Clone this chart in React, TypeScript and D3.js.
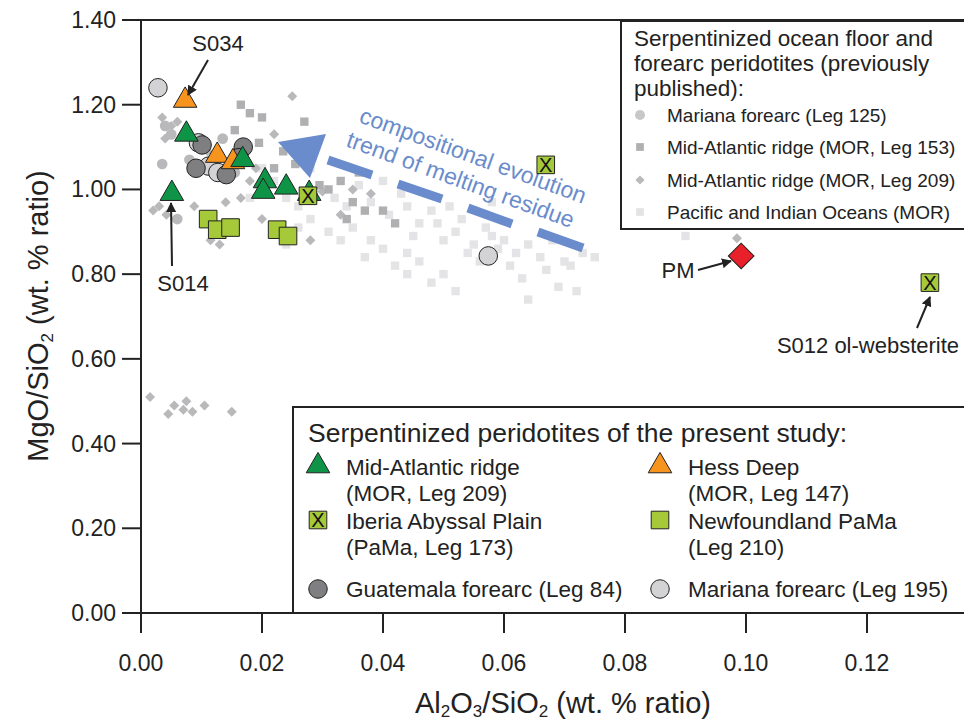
import * as d3 from 'd3'

const W = 964
const H = 724

// previously published (background)
const mariana125 = [[0.004, 1.15], [0.005, 1.13], [0.0035, 1.06], [0.008, 1.07], [0.006, 0.93], [0.0155, 1.04], [0.017, 1.09], [0.0135, 1.12]]
const mar153 = [[0.0155, 1.14], [0.018, 1.18], [0.0165, 1.2], [0.02, 1.17], [0.027, 1.16], [0.022, 1.05], [0.0295, 1.01], [0.031, 1.0], [0.033, 1.02], [0.035, 0.97], [0.036, 1.04], [0.034, 0.93], [0.037, 0.95], [0.04, 0.95], [0.042, 0.92], [0.0255, 1.06], [0.0235, 1.09], [0.0195, 1.11]]
const mar209 = [[0.0015, 0.51], [0.0045, 0.47], [0.0055, 0.49], [0.007, 0.48], [0.0085, 0.475], [0.0075, 0.5], [0.0105, 0.49], [0.015, 0.475], [0.0035, 1.17], [0.005, 1.15], [0.006, 1.16], [0.004, 1.12], [0.002, 0.95], [0.003, 0.96], [0.0042, 0.94], [0.0088, 0.96], [0.0085, 1.06], [0.011, 1.09], [0.014, 0.97], [0.015, 0.92], [0.0165, 0.98], [0.018, 1.02], [0.025, 1.22], [0.022, 1.13], [0.019, 1.05], [0.02, 0.93], [0.0115, 0.88], [0.013, 0.87], [0.03, 0.995], [0.035, 1.0], [0.038, 0.99], [0.033, 0.94], [0.028, 0.88], [0.0985, 0.885]]
const pacific = [[0.03, 1.0], [0.032, 0.98], [0.034, 0.96], [0.036, 1.01], [0.038, 0.97], [0.04, 1.02], [0.041, 0.94], [0.043, 0.99], [0.044, 0.96], [0.046, 0.92], [0.045, 0.89], [0.048, 0.95], [0.049, 0.92], [0.05, 0.88], [0.051, 0.96], [0.052, 0.9], [0.053, 0.93], [0.055, 0.87], [0.054, 0.85], [0.056, 0.83], [0.057, 0.91], [0.058, 0.89], [0.059, 0.86], [0.06, 0.88], [0.061, 0.82], [0.062, 0.85], [0.063, 0.79], [0.064, 0.87], [0.066, 0.84], [0.067, 0.81], [0.069, 0.77], [0.07, 0.83], [0.071, 0.82], [0.072, 0.76], [0.073, 0.85], [0.075, 0.84], [0.064, 0.74], [0.037, 0.84], [0.038, 0.88], [0.04, 0.86], [0.042, 0.82], [0.044, 0.8], [0.046, 0.83], [0.048, 0.78], [0.05, 0.8], [0.052, 0.76], [0.035, 0.91], [0.033, 0.88], [0.031, 0.9], [0.028, 0.93], [0.026, 0.96], [0.024, 0.98], [0.022, 1.02], [0.02, 1.05], [0.018, 0.98], [0.028, 1.05], [0.026, 0.91], [0.024, 0.87], [0.09, 0.89], [0.0125, 0.9], [0.044, 0.85], [0.058, 0.97], [0.068, 0.88]]

// present study
const midAtlantic = [[0.0075, 1.13], [0.0051, 0.99], [0.0168, 1.07], [0.0205, 1.02], [0.0202, 0.995], [0.024, 1.005], [0.0278, 0.99]]
const hessDeep = [[0.0073, 1.21], [0.0126, 1.08], [0.0152, 1.065]]
const iberia = [[0.0276, 0.985], [0.0669, 1.058], [0.1304, 0.78]]
const newfoundland = [[0.0111, 0.93], [0.0126, 0.905], [0.0148, 0.91], [0.0225, 0.905], [0.0243, 0.89]]
const guatemala = [[0.0101, 1.105], [0.0091, 1.05], [0.0141, 1.035], [0.0169, 1.1], [0.0162, 1.075]]
const mariana195 = [[0.0028, 1.24], [0.0095, 1.11], [0.0112, 1.055], [0.0127, 1.04], [0.0574, 0.843]]
const pm = [[0.0992, 0.843]]

const xTicks = [0, 0.02, 0.04, 0.06, 0.08, 0.1, 0.12]
const yTicks = [0, 0.2, 0.4, 0.6, 0.8, 1.0, 1.2, 1.4]

const FONT = 'Liberation Sans, Arial, sans-serif'
const x = d3.scaleLinear().domain([0, 0.12]).range([141, 867])
const y = d3.scaleLinear().domain([0, 1.4]).range([613, 20])

const sym = (type: d3.SymbolType, size: number) => d3.symbol().type(type).size(size)()!

function Marks({ data, type, size, fill, stroke = 'none', cross = false, rot = 0 }: any) {
  const p = sym(type, size)
  return (
    <g>
      {data.map((d: number[], i: number) => (
        <g key={i} transform={`translate(${x(d[0])},${y(d[1])}) rotate(${rot})`}>
          <path d={p} fill={fill} stroke={stroke} strokeWidth={1} />
          {cross && <text textAnchor="middle" y={7} fontSize={20} fontFamily={FONT} fill="#111">X</text>}
        </g>
      ))}
    </g>
  )
}

function Key({ cx, cy, type, size, fill, stroke = 'none', cross = false, rot = 0 }: any) {
  return (
    <g transform={`translate(${cx},${cy}) rotate(${rot})`}>
      <path d={sym(type, size)} fill={fill} stroke={stroke} strokeWidth={1} />
      {cross && <text textAnchor="middle" y={7} fontSize={20} fontFamily={FONT} fill="#111">X</text>}
    </g>
  )
}

const GREEN = '#0f9447'
const ORANGE = '#f7941d'
const LIME = '#a6c93a'
const BLUE = '#6a8ccc'

export default function App() {
  const arrow = (x1: number, y1: number, x2: number, y2: number) => (
    <line x1={x1} y1={y1} x2={x2} y2={y2} stroke="#222" strokeWidth={2} markerEnd="url(#ah)" />
  )
  const dashes = [[328, 160, 372, 175], [398, 184, 442, 199], [468, 208, 512, 224], [538, 232, 583, 248]]
  return (
    <svg width={W} height={H} style={{ position: 'absolute', left: 0, top: 0 }} fontFamily={FONT}>
      <defs>
        <marker id="ah" viewBox="0 0 10 10" refX={9} refY={5} markerWidth={5} markerHeight={5} orient="auto">
          <path d="M0,0L10,5L0,10z" fill="#222" />
        </marker>
      </defs>
      <rect width={W} height={H} fill="#fff" />
      {/* background data */}
      <Marks data={pacific} type={d3.symbolSquare} size={70} fill="#e4e4e6" />
      <Marks data={mar209} type={d3.symbolSquare} size={50} fill="#b9b9bb" rot={45} />
      <Marks data={mar153} type={d3.symbolSquare} size={70} fill="#b0b0b2" />
      <Marks data={mariana125} type={d3.symbolCircle} size={90} fill="#b9b9bb" />
      {/* trend */}
      <path d="M278,142L326,134L310,178Z" fill={BLUE} />
      {dashes.map((d, i) => (
        <line key={i} x1={d[0]} y1={d[1]} x2={d[2]} y2={d[3]} stroke={BLUE} strokeWidth={9} />
      ))}
      <g transform="translate(358,122) rotate(20)" fill={BLUE} fontSize={23}>
        <text>compositional evolution</text>
        <text x={-4} y={27}>trend of melting residue</text>
      </g>
      {/* present study */}
      <Marks data={mariana195} type={d3.symbolCircle} size={270} fill="#d3d3d5" stroke="#222" />
      <Marks data={guatemala} type={d3.symbolCircle} size={270} fill="#7f7f81" stroke="#222" />
      <Marks data={newfoundland} type={d3.symbolSquare} size={310} fill={LIME} stroke="#222" />
      <Marks data={hessDeep} type={d3.symbolTriangle} size={240} fill={ORANGE} stroke="#222" />
      <Marks data={midAtlantic} type={d3.symbolTriangle} size={240} fill={GREEN} stroke="#222" />
      <Marks data={iberia} type={d3.symbolSquare} size={310} fill={LIME} stroke="#222" cross />
      <Marks data={pm} type={d3.symbolSquare} size={330} fill="#e8202a" stroke="#222" rot={45} />
      {/* annotations */}
      <text x={218} y={51} fontSize={22} textAnchor="middle" fill="#222">S034</text>
      {arrow(208, 60, 188, 95)}
      <text x={183} y={291} fontSize={22} textAnchor="middle" fill="#222">S014</text>
      {arrow(172, 266, 171, 203)}
      <text x={678} y={278} fontSize={22} textAnchor="middle" fill="#222">PM</text>
      {arrow(698, 270, 731, 261)}
      <text x={868} y={353} fontSize={22} textAnchor="middle" fill="#222">S012 ol-websterite</text>
      {arrow(917, 328, 930, 297)}
      {/* frame & axes */}
      <path d="M141,20V613H964M141,20H964" fill="none" stroke="#222" strokeWidth={2} />
      {xTicks.map(t => (
        <g key={t}>
          <line x1={x(t)} x2={x(t)} y1={613} y2={633} stroke="#222" strokeWidth={2} />
          <text x={x(t)} y={671} fontSize={23} textAnchor="middle" fill="#222">{t.toFixed(2)}</text>
        </g>
      ))}
      {yTicks.map(t => (
        <g key={t}>
          <line x1={122} x2={141} y1={y(t)} y2={y(t)} stroke="#222" strokeWidth={2} />
          <text x={116} y={y(t) + 8} fontSize={23} textAnchor="end" fill="#222">{t.toFixed(2)}</text>
        </g>
      ))}
      <text x={563} y={713} fontSize={29} textAnchor="middle" fill="#222">
        Al<tspan fontSize={17} dy={4}>2</tspan><tspan dy={-4}>O</tspan><tspan fontSize={17} dy={4}>3</tspan><tspan dy={-4}>/SiO</tspan><tspan fontSize={17} dy={4}>2</tspan><tspan dy={-4}> (wt. % ratio)</tspan>
      </text>
      <text transform="translate(48,316) rotate(-90)" fontSize={29} textAnchor="middle" fill="#222">
        MgO/SiO<tspan fontSize={17} dy={5}>2</tspan><tspan dy={-5}> (wt. % ratio)</tspan>
      </text>
      {/* legend 1 */}
      <rect x={621} y={21} width={350} height={208} fill="#fff" stroke="#222" strokeWidth={2} />
      <g fontSize={22.5} fill="#222">
        <text x={634} y={46}>Serpentinized ocean floor and</text>
        <text x={634} y={71}>forearc peridotites (previously</text>
        <text x={634} y={96}>published):</text>
      </g>
      <g fontSize={19} fill="#222">
        <Key cx={640} cy={115} type={d3.symbolCircle} size={80} fill="#c8c8ca" />
        <text x={667} y={122}>Mariana forearc (Leg 125)</text>
        <Key cx={640} cy={147} type={d3.symbolSquare} size={60} fill="#b0b0b2" />
        <text x={667} y={154}>Mid-Atlantic ridge (MOR, Leg 153)</text>
        <Key cx={640} cy={180} type={d3.symbolSquare} size={42} fill="#b9b9bb" rot={45} />
        <text x={667} y={187}>Mid-Atlantic ridge (MOR, Leg 209)</text>
        <Key cx={640} cy={212} type={d3.symbolSquare} size={60} fill="#e4e4e6" />
        <text x={667} y={219}>Pacific and Indian Oceans (MOR)</text>
      </g>
      {/* legend 2 */}
      <rect x={293} y={407} width={678} height={206} fill="#fff" stroke="#222" strokeWidth={2} />
      <text x={308} y={442} fontSize={26.5} fill="#222">Serpentinized peridotites of the present study:</text>
      <g fontSize={22.5} fill="#222">
        <Key cx={318} cy={466} type={d3.symbolTriangle} size={240} fill={GREEN} stroke="#222" />
        <text x={346} y={475}>Mid-Atlantic ridge</text>
        <text x={346} y={501}>(MOR, Leg 209)</text>
        <Key cx={660} cy={466} type={d3.symbolTriangle} size={240} fill={ORANGE} stroke="#222" />
        <text x={688} y={475}>Hess Deep</text>
        <text x={688} y={501}>(MOR, Leg 147)</text>
        <Key cx={318} cy={520} type={d3.symbolSquare} size={310} fill={LIME} stroke="#222" cross />
        <text x={346} y={529}>Iberia Abyssal Plain</text>
        <text x={346} y={555}>(PaMa, Leg 173)</text>
        <Key cx={660} cy={520} type={d3.symbolSquare} size={310} fill={LIME} stroke="#222" />
        <text x={688} y={529}>Newfoundland PaMa</text>
        <text x={688} y={555}>(Leg 210)</text>
        <Key cx={318} cy={589} type={d3.symbolCircle} size={270} fill="#7f7f81" stroke="#222" />
        <text x={346} y={597}>Guatemala forearc (Leg 84)</text>
        <Key cx={660} cy={589} type={d3.symbolCircle} size={270} fill="#d3d3d5" stroke="#222" />
        <text x={688} y={597}>Mariana forearc (Leg 195)</text>
      </g>
    </svg>
  )
}
